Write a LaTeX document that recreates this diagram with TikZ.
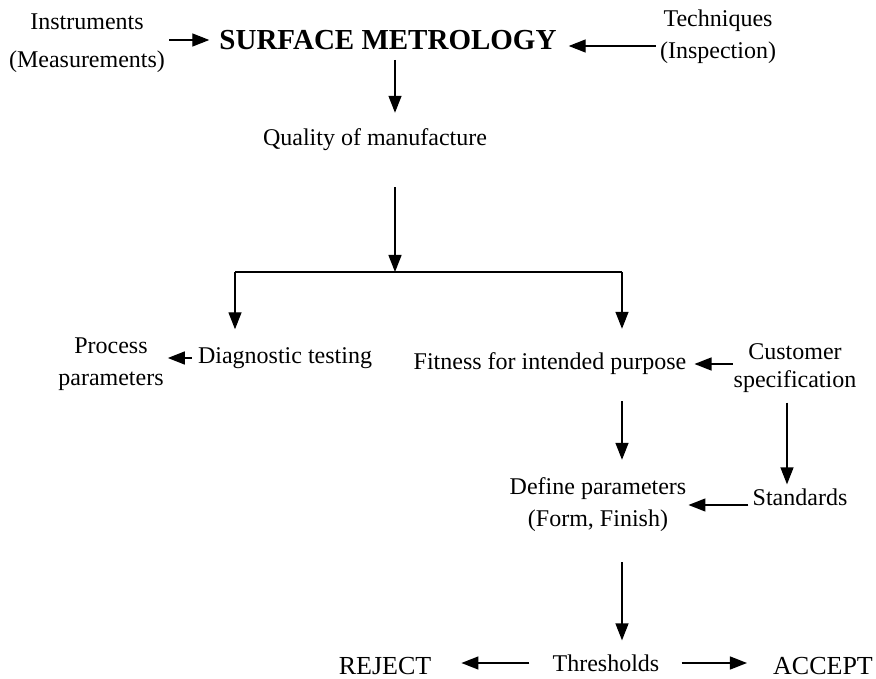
\documentclass[tikz,border=0pt]{standalone}
\usepackage{fontspec}
\setmainfont{Liberation Serif}
\usetikzlibrary{arrows.meta}

\begin{document}
\begin{tikzpicture}[x=1pt,y=-1pt,
    every node/.style={inner sep=0pt, align=center, font=\fontsize{24}{32}\selectfont},
    big/.style={font=\fontsize{26}{32}\selectfont},
    arr/.style={-{Triangle[length=17pt,width=13pt]}, line width=1.4pt}]
    \useasboundingbox (0,0) rectangle (876,679);
    \node[font=\fontsize{24}{38}\selectfont] (instr) at (87,43) {Instruments\\(Measurements)};
    \node[font=\fontsize{29}{34}\selectfont\bfseries] (surf) at (388,40) {SURFACE METROLOGY};
    \node (tech) at (718,37) {Techniques\\(Inspection)};
    \node (quality) at (375,140) {Quality of manufacture};
    \node (proc) at (111,364) {Process\\parameters};
    \node (diag) at (285,358) {Diagnostic testing};
    \node (fit) at (550,364) {Fitness for intended purpose};
    \node[font=\fontsize{24}{28}\selectfont] (cust) at (795,368) {Customer\\specification};
    \node (defp) at (598,505) {Define parameters\\(Form, Finish)};
    \node (std) at (800,497) {Standards};
    \node (thr) at (606,663) {Thresholds};
    \node[big] (rej) at (385,666) {REJECT};
    \node[big] (acc) at (823,666) {ACCEPT};
    \coordinate (split) at (395,272);
    \coordinate (lbr) at (235,272);
    \coordinate (rbr) at (622,272);
    \draw[arr, shorten <=4pt, shorten >=10pt] (instr.east |- surf.west) -- (surf.west);
    \draw[arr, shorten <=4pt, shorten >=12pt] ([yshift=-6pt]tech.west |- surf.east) -- ([yshift=-6pt]surf.east);
    \draw[arr, shorten <=10pt, shorten >=16pt] (surf.south -| split) -- (quality.north -| split);
    \draw[arr, shorten <=36pt] (quality.south -| split) -- (split);
    \draw[line width=1.4pt] (lbr) -- (rbr);
    \draw[arr, shorten >=18pt] (lbr) -- (lbr |- diag.north);
    \draw[arr, shorten >=24pt] (rbr) -- (rbr |- fit.north);
    \draw[arr, shorten <=6pt, shorten >=4pt] (diag.west) -- (diag.west -| proc.east);
    \draw[arr, shorten <=1pt, shorten >=8pt] (cust.west |- fit.east) -- (fit.east);
    \draw[arr, shorten <=10pt, shorten >=4pt] ([xshift=-8pt]cust.south) -- ([xshift=-8pt]cust.south |- std.north);
    \draw[arr, shorten <=26pt, shorten >=18pt] (fit.south -| rbr) -- (defp.north -| rbr);
    \draw[arr, shorten <=4pt, shorten >=2pt] (std.west |- defp.east) -- (defp.east);
    \draw[arr, shorten <=30pt, shorten >=14pt] (defp.south -| rbr) -- (thr.north -| rbr);
    \draw[arr, shorten <=23pt, shorten >=30pt] (thr.west) -- (thr.west -| rej.east);
    \draw[arr, shorten <=22pt, shorten >=26pt] (thr.east) -- (thr.east -| acc.west);
\end{tikzpicture}
\end{document}
